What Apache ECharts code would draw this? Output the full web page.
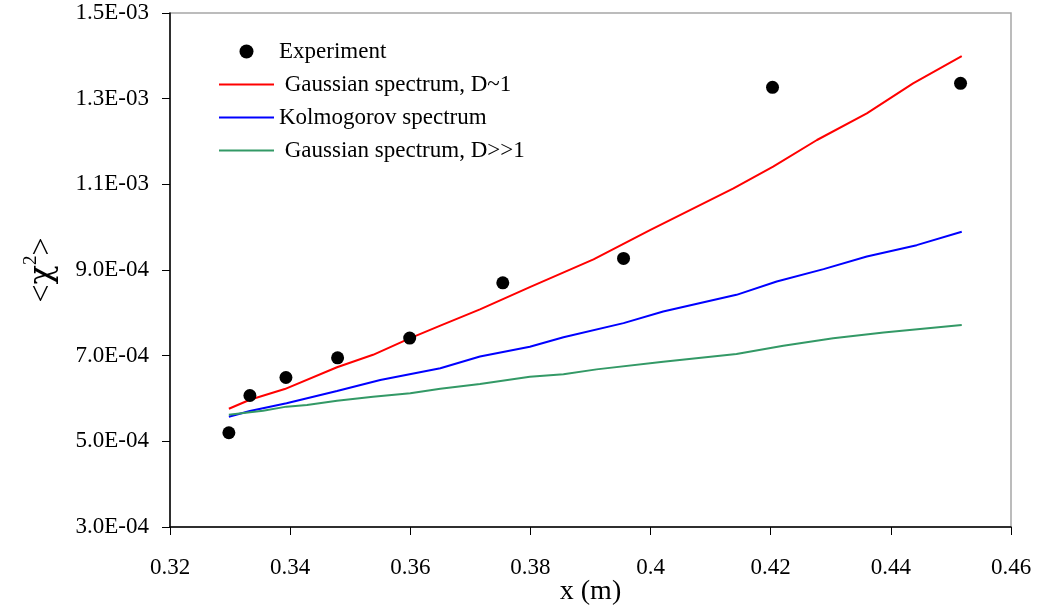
<!DOCTYPE html>
<html>
<head>
<meta charset="utf-8">
<title>chi2 vs x</title>
<script src="https://cdn.jsdelivr.net/npm/echarts@6/dist/echarts.min.js"></script>
<style>
  html, body { margin: 0; padding: 0; background: #fff; }
  #main { width: 1042px; height: 608px; }
</style>
</head>
<body>
<div id="main"></div>
<script>
// 实验点
var expX = [0.3298, 0.3333, 0.3393, 0.3479, 0.3599, 0.3754, 0.3955, 0.4203, 0.4516];
var expY = [5.20e-4, 6.07e-4, 6.49e-4, 6.95e-4, 7.41e-4, 8.70e-4, 9.27e-4, 1.3265e-3, 1.3358e-3];

// Gaussian spectrum, D~1
var gaussX = [0.3298, 0.3333, 0.3391, 0.3478, 0.3538, 0.3600, 0.3650, 0.3716, 0.3799, 0.3905, 0.3999, 0.4138, 0.4204, 0.4277, 0.4360, 0.4437, 0.4518];
var gaussY = [5.76e-4, 5.97e-4, 6.22e-4, 6.73e-4, 7.02e-4, 7.41e-4, 7.70e-4, 8.08e-4, 8.60e-4, 9.25e-4, 9.93e-4, 1.0907e-3, 1.1412e-3, 1.2035e-3, 1.2658e-3, 1.3359e-3, 1.3996e-3];

// Kolmogorov spectrum
var kolX = [0.3298, 0.3333, 0.3394, 0.3478, 0.3550, 0.3650, 0.3716, 0.3799, 0.3855, 0.3955, 0.4021, 0.4143, 0.4210, 0.4288, 0.4360, 0.4443, 0.4518];
var kolY = [5.575e-4, 5.71e-4, 5.89e-4, 6.175e-4, 6.43e-4, 6.705e-4, 6.98e-4, 7.21e-4, 7.43e-4, 7.76e-4, 8.03e-4, 8.42e-4, 8.73e-4, 9.02e-4, 9.315e-4, 9.58e-4, 9.894e-4];

// Gaussian spectrum, D>>1
var gaussBigX = [0.3298, 0.3333, 0.3355, 0.3394, 0.3428, 0.3478, 0.3538, 0.3600, 0.3650, 0.3716, 0.3799, 0.3855, 0.3910, 0.4021, 0.4143, 0.4221, 0.4304, 0.4388, 0.4518];
var gaussBigY = [5.62e-4, 5.68e-4, 5.715e-4, 5.81e-4, 5.85e-4, 5.95e-4, 6.04e-4, 6.12e-4, 6.23e-4, 6.34e-4, 6.51e-4, 6.565e-4, 6.68e-4, 6.86e-4, 7.04e-4, 7.23e-4, 7.405e-4, 7.54e-4, 7.716e-4];

var xTicks = { min: 0.32, max: 0.46, step: 0.02 };
var yTicks = { min: 3e-4, max: 1.5e-3, step: 2e-4 };

function pairs(xs, ys) {
  return xs.map(function (x, i) { return [x, ys[i]]; });
}

// 1.5E-03 这种格式
function sci(v) {
  var s = v.toExponential(1).split('e');
  var e = parseInt(s[1], 10);
  var sign = e < 0 ? '-' : '+';
  var a = Math.abs(e);
  return s[0] + 'E' + sign + (a < 10 ? '0' + a : a);
}

var font = 'Liberation Serif';
var chart = echarts.init(document.getElementById('main'));

// 图例里的线条不要圆点
var noDot = { opacity: 0 };

var option = {
  backgroundColor: '#fff',
  animation: false,
  textStyle: { fontFamily: font },
  grid: {
    left: 170, right: 31, top: 13, bottom: 81,
    outerBoundsMode: 'none',
    show: true, borderColor: '#a6a6a6', borderWidth: 1.5, backgroundColor: '#fff'
  },
  legend: {
    orient: 'vertical',
    left: 218, top: 40, padding: 0,
    itemWidth: 55, itemHeight: 14, itemGap: 10,
    textStyle: { fontFamily: font, fontSize: 23, color: '#000' },
    data: [
      { name: 'Experiment', icon: 'circle', itemStyle: { color: '#000' } },
      { name: ' Gaussian spectrum, D~1', itemStyle: noDot },
      { name: 'Kolmogorov spectrum', itemStyle: noDot },
      { name: ' Gaussian spectrum, D>>1', itemStyle: noDot }
    ]
  },
  xAxis: {
    type: 'value',
    min: xTicks.min, max: xTicks.max, interval: xTicks.step,
    name: 'x (m)',
    nameLocation: 'middle', nameGap: 51, nameMoveOverlap: false,
    nameTextStyle: { fontFamily: font, fontSize: 28, color: '#000' },
    axisLine: { lineStyle: { color: '#000', width: 1.5 } },
    axisTick: { inside: false, length: 8, lineStyle: { color: '#000' } },
    axisLabel: { fontFamily: font, fontSize: 23, color: '#000', margin: 29 },
    splitLine: { show: false }
  },
  yAxis: {
    type: 'value',
    min: yTicks.min, max: yTicks.max, interval: yTicks.step,
    name: '<{chi|χ}{sup|2}>',
    nameLocation: 'middle', nameRotate: 90, nameGap: 107,
    nameTextStyle: {
      fontFamily: font, fontSize: 32, color: '#000',
      rich: {
        chi: { fontFamily: 'DejaVu Serif', fontSize: 32, color: '#000' },
        sup: { fontFamily: font, fontSize: 19, color: '#000', padding: [0, 0, 22, 0] }
      }
    },
    axisLine: { show: true, lineStyle: { color: '#000', width: 1.5 } },
    axisTick: { show: true, inside: false, length: 8, lineStyle: { color: '#000' } },
    axisLabel: {
      fontFamily: font, fontSize: 23, color: '#000', margin: 21,
      formatter: function (v) { return sci(v); }
    },
    splitLine: { show: false }
  },
  series: [
    {
      name: ' Gaussian spectrum, D~1',
      type: 'line', symbol: 'none', z: 2,
      lineStyle: { color: '#ff0000', width: 2 },
      itemStyle: { color: '#ff0000' },
      data: pairs(gaussX, gaussY)
    },
    {
      name: 'Kolmogorov spectrum',
      type: 'line', symbol: 'none', z: 2,
      lineStyle: { color: '#0000ff', width: 2 },
      itemStyle: { color: '#0000ff' },
      data: pairs(kolX, kolY)
    },
    {
      name: ' Gaussian spectrum, D>>1',
      type: 'line', symbol: 'none', z: 2,
      lineStyle: { color: '#339966', width: 2 },
      itemStyle: { color: '#339966' },
      data: pairs(gaussBigX, gaussBigY)
    },
    {
      name: 'Experiment',
      type: 'scatter', symbol: 'circle', symbolSize: 13, z: 3,
      itemStyle: { color: '#000', opacity: 1 },
      data: pairs(expX, expY)
    }
  ]
};

chart.setOption(option);
</script>
</body>
</html>
